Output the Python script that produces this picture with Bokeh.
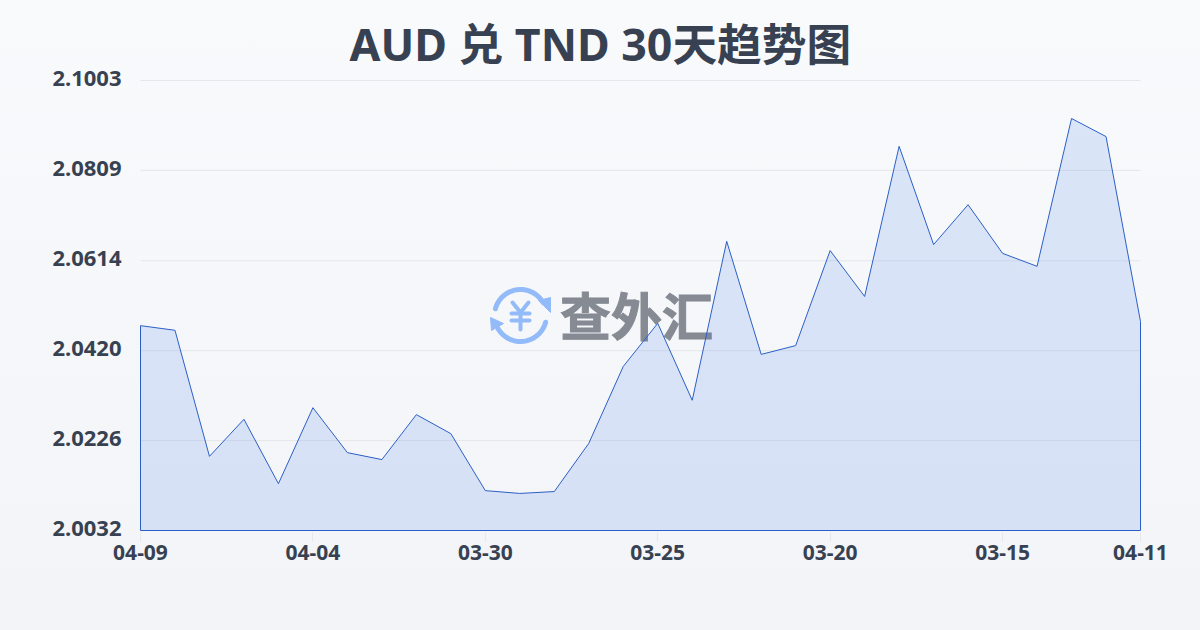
import numpy as np
from bokeh.embed import file_html
from bokeh.models import FixedTicker, Label, LinearAxis, Range1d
from bokeh.plotting import figure
from bokeh.resources import INLINE

title = "AUD 兑 TND 30天趋势图"
rates = [2.0474, 2.0464, 2.0192, 2.0272, 2.0133, 2.0297, 2.0200, 2.0185, 2.0282, 2.0241,
         2.0118, 2.0112, 2.0116, 2.0220, 2.0386, 2.0479, 2.0313, 2.0656, 2.0412, 2.0431,
         2.0636, 2.0537, 2.0861, 2.0649, 2.0735, 2.0630, 2.0602, 2.0921, 2.0882, 2.0483]
days = list(range(len(rates)))
x_tick_positions = [0, 5, 10, 15, 20, 25, 29]
x_tick_labels = ["04-09", "04-04", "03-30", "03-25", "03-20", "03-15", "04-11"]
y_tick_values = [2.0032, 2.0226, 2.0420, 2.0614, 2.0809, 2.1003]
y_tick_labels = ["2.0032", "2.0226", "2.0420", "2.0614", "2.0809", "2.1003"]

TEXT = "#374151"
LINE = "#2b5fc7"
GRID = "#e5e7eb"
ICON = "#93bbf9"
PAD = 2  # frame extends this many px past the data so edge strokes are not clipped

xspan = days[-1] - days[0]
yspan = y_tick_values[-1] - y_tick_values[0]
xpad = PAD * xspan / 1000
ypad = PAD * yspan / 450

p = figure(width=1200, height=630, output_backend="svg", toolbar_location=None,
           x_range=Range1d(days[0] - xpad, days[-1] + xpad),
           y_range=Range1d(y_tick_values[0] - ypad, y_tick_values[-1] + ypad),
           x_axis_type=None, y_axis_type=None,
           min_border_left=140 - PAD, min_border_right=60 - PAD,
           min_border_top=80 - PAD, min_border_bottom=100 - PAD,
           background_fill_alpha=0, border_fill_alpha=0, outline_line_color=None)
p.styles = {"position": "fixed", "left": "0", "top": "0",
            "background": "linear-gradient(180deg, #f8fafc 0%, #f2f4f7 100%)"}

p.title.text = title
p.title.align = "left"
p.title.offset = 211
p.title.standoff = 9
p.title.text_font = "'Noto Sans', 'Noto Sans CJK SC'"
p.title.text_font_style = "bold"
p.title.text_font_size = "44.7px"
p.title.text_color = TEXT

xa = LinearAxis(ticker=FixedTicker(ticks=x_tick_positions),
                major_label_overrides=dict(zip(x_tick_positions, x_tick_labels)))
xa.axis_line_color = None
xa.major_tick_line_color = GRID
xa.major_tick_out = 9
xa.major_tick_in = 0
xa.minor_tick_line_color = None
xa.major_label_standoff = 3
xa.major_label_text_font = "Noto Sans"
xa.major_label_text_font_style = "bold"
xa.major_label_text_font_size = "21px"
xa.major_label_text_color = TEXT
p.add_layout(xa, "below")

# y labels sit 2px above their gridlines in the reference
label_shift = 2 * yspan / 450
y_label_pos = [v + label_shift for v in y_tick_values]
ya = LinearAxis(ticker=FixedTicker(ticks=y_label_pos),
                major_label_overrides=dict(zip(y_label_pos, y_tick_labels)))
ya.axis_line_color = None
ya.major_tick_line_color = None
ya.minor_tick_line_color = None
ya.major_tick_in = 0
ya.major_tick_out = 0
ya.major_label_standoff = 17
ya.major_label_text_font = "Noto Sans"
ya.major_label_text_font_style = "bold"
ya.major_label_text_font_size = "22px"
ya.major_label_text_color = TEXT
p.add_layout(ya, "left")

p.segment(x0=[days[0]] * len(y_tick_values), x1=[days[-1]] * len(y_tick_values),
          y0=y_tick_values, y1=y_tick_values, line_color=GRID, line_width=1, level="underlay")

# pixel-space range pair for decoration (watermark)
p.extra_x_ranges["px"] = Range1d(140 - PAD, 1140 + PAD)
p.extra_y_ranges["px"] = Range1d(530 + PAD, 80 - PAD)

def deco_line(xs, ys, width):
    p.line(xs, ys, x_range_name="px", y_range_name="px", line_color=ICON, line_width=width,
           line_cap="round", line_join="round", level="underlay")

cx, cy, r = 520, 315, 26
a = np.radians(np.linspace(195, 330, 40))
deco_line(cx + r * np.cos(a), cy + r * np.sin(a), 5)
a = np.radians(np.linspace(15, 150, 40))
deco_line(cx + r * np.cos(a), cy + r * np.sin(a), 5)
p.patch([538, 550, 550], [300, 297, 312], x_range_name="px", y_range_name="px",
        fill_color=ICON, line_color=ICON, level="underlay")
p.patch([490, 503, 491], [317, 323, 330], x_range_name="px", y_range_name="px",
        fill_color=ICON, line_color=ICON, level="underlay")
deco_line([512, 520, 528], [302, 312, 302], 4)
deco_line([511, 529], [313, 313], 4)
deco_line([511, 529], [320, 320], 4)
deco_line([520, 520], [312, 329], 4)

wm = Label(x=636, y=313, x_range_name="px", y_range_name="px", text="查外汇",
           text_font="Noto Sans CJK SC", text_font_style="bold", text_font_size="51px",
           text_color="#858a93", text_outline_color="#858a93",
           text_align="center", text_baseline="middle", level="underlay")
p.add_layout(wm)

# closed area down to the axis floor
floor = y_tick_values[0]
p.patch([days[0]] + days + [days[-1]], [floor] + rates + [floor],
        fill_color="#3f73e8", fill_alpha=0.15, line_color=LINE, line_width=1, line_join="round")

open("out.html", "w").write(file_html(p, INLINE))
